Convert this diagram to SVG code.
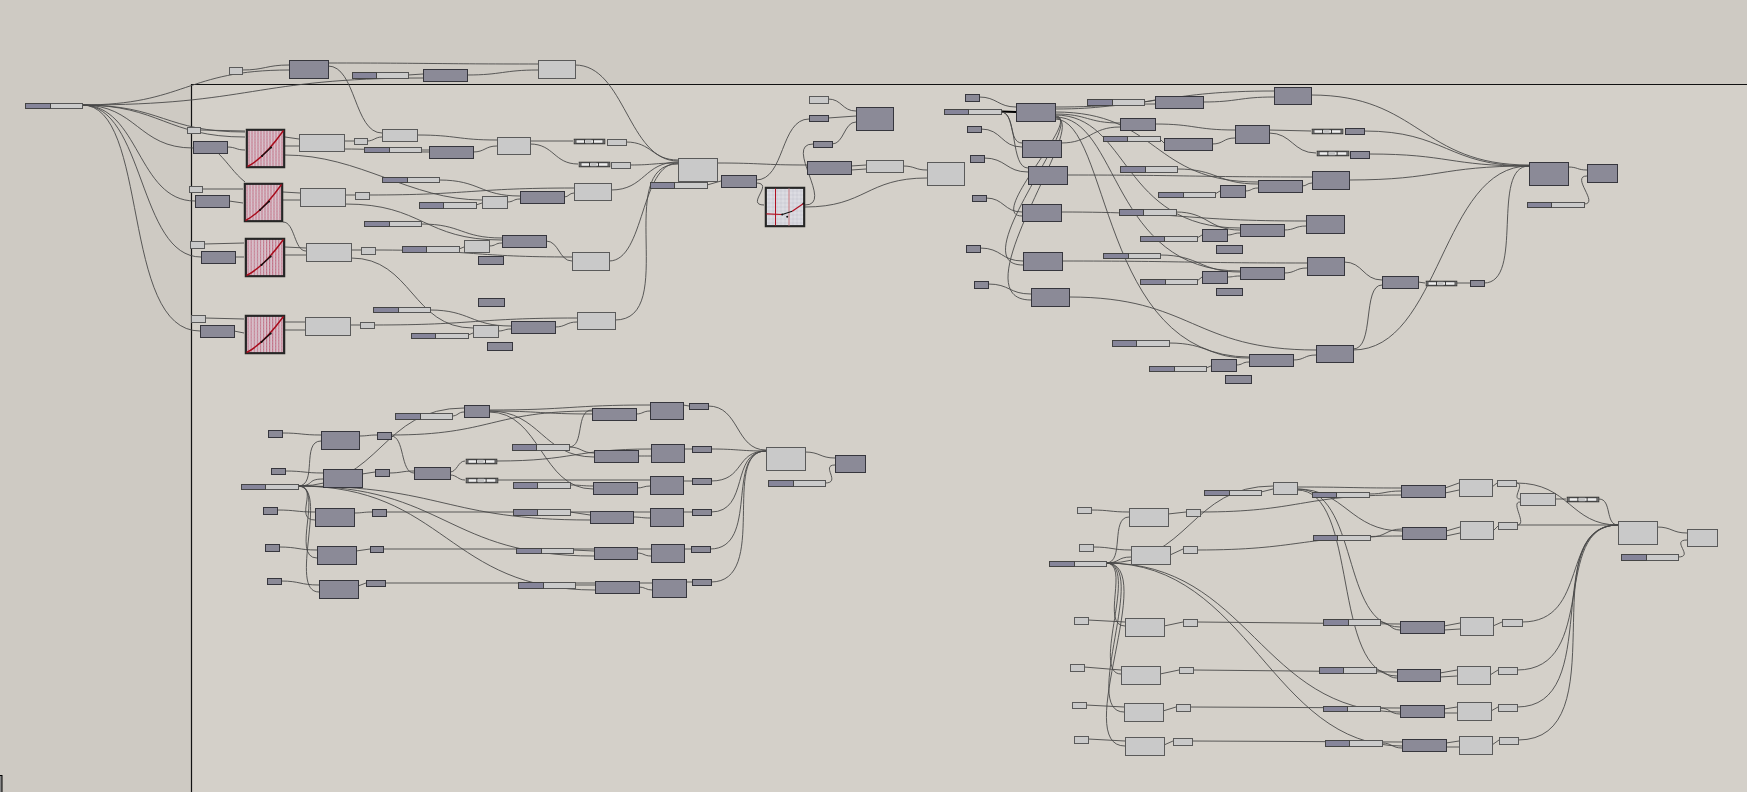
<svg xmlns="http://www.w3.org/2000/svg" xmlns:xlink="http://www.w3.org/1999/xlink" width="1747" height="792" viewBox="0 0 1747 792">
<style>
.d{fill:#8b8a97;stroke:#36363d;stroke-width:1}
.l{fill:#c9c9c9;stroke:#5a5a5a;stroke-width:1}
.sb{fill:#cbcbcb;stroke:#555;stroke-width:1}
.sd{fill:#86859a;stroke:#444;stroke-width:1}
.w path{fill:none;stroke:#474747;stroke-width:1;stroke-opacity:.88}
</style>
<defs>
<pattern id="pgr" width="3" height="3" patternUnits="userSpaceOnUse"><rect width="3" height="3" fill="#d9c3cd"/><rect width="1" height="3" fill="#c06a80"/><rect width="3" height=".5" fill="#cbb3be"/></pattern>
<pattern id="pgg" width="4" height="4" patternUnits="userSpaceOnUse"><rect width="4" height="4" fill="#dcdce2"/><path d="M0 0H4M0 0V4" stroke="#b2b2bc" stroke-width=".6"/></pattern>
<symbol id="gr" viewBox="0 0 40 40" preserveAspectRatio="none">
<rect x="1.2" y="1.2" width="37.6" height="37.6" fill="url(#pgr)" stroke="#262626" stroke-width="2.4"/>
<path d="M2 38 Q18 30 38 2" fill="none" stroke="#a80c1c" stroke-width="1.4"/>
<path d="M16.5 27.5 L25.5 19" stroke="#111" stroke-width="1.1"/>
<circle cx="16.5" cy="27.5" r="1.1" fill="#111"/><circle cx="25.5" cy="19" r="1.1" fill="#111"/>
</symbol>
<symbol id="gr2" viewBox="0 0 41 41" preserveAspectRatio="none">
<rect x="1.2" y="1.2" width="38.6" height="38.6" fill="url(#pgg)" stroke="#262626" stroke-width="2.4"/>
<path d="M11 2V39" stroke="#b01020" stroke-width="1"/><path d="M24.5 2V39" stroke="#d08a90" stroke-width="1.2"/>
<path d="M2 27.3 L17.7 28" fill="none" stroke="#b01020" stroke-width="1.2"/>
<path d="M17.7 28 L27.7 24.7" stroke="#111" stroke-width="1.1"/>
<path d="M27.7 24.7 L39 17" stroke="#b01020" stroke-width="1.2"/>
<circle cx="17.7" cy="28" r="1" fill="#111"/><circle cx="22.7" cy="30.3" r="1" fill="#111"/><circle cx="39" cy="17" r="1" fill="#111"/>
</symbol>
<symbol id="tg" viewBox="0 0 32 6" preserveAspectRatio="none">
<rect x=".5" y=".5" width="31" height="5" fill="#8f8f8f" stroke="#2a2a2a"/>
<rect x="2.5" y="1.3" width="27" height="3.4" fill="#ededed" stroke="#1a1a1a" stroke-width=".7"/>
<rect x="12" y="1.3" width="6" height="3.4" fill="#c4c4c4"/>
<path d="M11 1.3V4.7M20 1.3V4.7" stroke="#111" stroke-width=".8"/>
</symbol>
</defs>
<rect width="1747" height="792" fill="#cecac3"/>
<rect x="192" y="85" width="1555" height="707" fill="#d4d0c9"/>
<path d="M191.5 792 V84.5 H1747" fill="none" stroke="#111" stroke-width="1.2"/>
<rect x="-1" y="775.5" width="3" height="20" fill="#888" stroke="#000"/>

<g id="connectors" class="w">
<path d="M82 105 C185 105 186 70 289 70"/>
<path d="M242 70 C265 70 266 65 289 65"/>
<path d="M82 105 C252 105 253 78 423 78"/>
<path d="M328 63 C433 63 433 64 538 64"/>
<path d="M328 66 C356 66 354 133 382 133"/>
<path d="M408 75 L423 74"/>
<path d="M467 75 C502 75 503 70 538 70"/>
<path d="M82 105 C163 105 164 132 245 132"/>
<path d="M82 105 C160 105 167 137 245 137"/>
<path d="M82 105 C137 105 138 148 193 148"/>
<path d="M82 105 C140 105 137 201 195 201"/>
<path d="M82 105 C145 105 138 257 201 257"/>
<path d="M82 105 C150 105 120 331 200 331"/>
<path d="M200 130 L245 131"/>
<path d="M227 147 C236 147 236 150 245 150"/>
<path d="M218 153 C230 165 233 172 245 182"/>
<path d="M285 137 L299 139"/><path d="M285 146 L299 146"/>
<path d="M344 141 L354 141"/>
<path d="M367 141 C374 141 375 137 382 137"/>
<path d="M344 149 C386 149 387 152 429 152"/>
<path d="M421 150 L429 150"/>
<path d="M417 135 C457 135 457 140 497 140"/>
<path d="M473 152 C485 152 485 146 497 146"/>
<path d="M530 141 L573 141"/>
<path d="M530 144 C554 144 554 164 578 164"/>
<path d="M626 142 C652 142 652 160 678 160"/>
<path d="M630 165 C654 165 654 163 678 163"/>
<path d="M575 65 C625 65 628 161 678 161"/>
<path d="M285 155 C360 155 410 200 482 200"/>
<path d="M369 195 C470 195 472 188 574 188"/>
<path d="M202 189 L243 189"/>
<path d="M229 201 L243 203"/>
<path d="M283 192 L300 193"/><path d="M283 200 L300 200"/>
<path d="M345 195 L355 195"/>
<path d="M439 180 C480 180 480 196 520 196"/>
<path d="M476 205 L482 203"/>
<path d="M507 202 C514 202 513 199 520 199"/>
<path d="M564 197 C569 197 569 193 574 193"/>
<path d="M611 190 C645 190 644 162 678 162"/>
<path d="M345 204 C424 204 423 240 502 240"/>
<path d="M204 244 L244 243"/>
<path d="M235 257 L244 257"/>
<path d="M285 247 L306 248"/><path d="M285 255 L306 255"/>
<path d="M351 250 L361 250"/>
<path d="M375 250 C474 250 473 257 572 257"/>
<path d="M459 249 L464 247"/>
<path d="M421 224 C462 224 461 238 502 238"/>
<path d="M489 246 C496 246 495 243 502 243"/>
<path d="M546 241 C559 241 559 261 572 261"/>
<path d="M609 261 C645 261 640 163 678 163"/>
<path d="M283 222 C295 222 294 251 306 251"/>
<path d="M351 258 C412 258 412 328 473 328"/>
<path d="M205 318 L244 319"/><path d="M234 331 L244 333"/>
<path d="M285 322 L305 322"/><path d="M285 330 L305 330"/>
<path d="M350 325 L360 325"/>
<path d="M374 325 C476 325 475 318 577 318"/>
<path d="M430 310 C470 310 471 326 511 326"/>
<path d="M468 335 L473 333"/>
<path d="M498 331 C505 331 504 329 511 329"/>
<path d="M555 327 C566 327 566 322 577 322"/>
<path d="M615 320 C680 320 612 164 678 164"/>
<path d="M707 185 L721 181"/>
<path d="M717 163 C762 163 762 165 807 165"/>
<path d="M756 180 C785 180 780 119 809 119"/>
<path d="M756 183 C775 183 745 205 764 205"/>
<path d="M805 205 C835 205 783 144 813 144"/>
<path d="M805 207 C866 207 866 178 927 178"/>
<path d="M851 166 L866 165"/><path d="M851 170 L866 169"/>
<path d="M903 166 C915 166 915 170 927 170"/>
<path d="M828 99 C842 99 842 111 856 111"/>
<path d="M828 118 L856 116"/>
<path d="M832 144 C844 144 844 122 856 122"/>

<path d="M1001 111.5 L1016 112" style="stroke:#000;stroke-width:2;stroke-opacity:1"/>
<path d="M979 97 C997 97 998 107 1016 107"/>
<path d="M1055 107 C1165 107 1164 91 1274 91"/>
<path d="M1055 109 C1105 109 1105 104 1155 104"/>
<path d="M1144 102 L1155 100"/>
<path d="M1203 102 C1238 102 1239 97 1274 97"/>
<path d="M1055 114 C1088 114 1087 123 1120 123"/>
<path d="M1155 124 C1195 124 1195 130 1235 130"/>
<path d="M1160 139 L1164 143"/>
<path d="M1212 144 C1224 144 1223 138 1235 138"/>
<path d="M1061 143 C1090 143 1091 127 1120 127"/>
<path d="M1269 130 L1311 131"/>
<path d="M1269 133 C1292 133 1293 153 1316 153"/>
<path d="M1364 131 C1446 131 1447 166 1529 166"/>
<path d="M1369 154 C1449 154 1449 166 1529 166"/>
<path d="M1311 95 C1420 95 1420 165 1529 165"/>
<path d="M1349 180 C1439 180 1439 166 1529 166"/>
<path d="M1353 350 C1441 350 1441 166 1529 166"/>
<path d="M1484 283 C1525 283 1490 166 1529 166"/>
<path d="M1344 262 C1363 262 1363 280 1382 280"/>
<path d="M1353 349 C1375 349 1362 285 1382 285"/>
<path d="M1418 282 L1425 283"/>
<path d="M1457 283 L1470 283"/>
<path d="M1568 167 C1578 167 1577 170 1587 170"/>
<path d="M1584 204 C1600 204 1570 176 1587 176"/>
<path d="M981 129 C1002 129 1001 147 1022 147"/>
<path d="M984 158 C1006 158 1006 172 1028 172"/>
<path d="M986 198 C1004 198 1004 212 1022 212"/>
<path d="M980 248 C1002 248 1001 261 1023 261"/>
<path d="M988 284 C1010 284 1009 294 1031 294"/>
<path d="M1001 112 C1015 112 1008 143 1022 143"/>
<path d="M1001 112 C1018 112 1010 168 1028 168"/>
<path d="M1055 116 C1085 116 985 216 1022 216"/>
<path d="M1055 117 C1090 117 960 265 1023 265"/>
<path d="M1055 118 C1095 118 955 300 1031 300"/>
<path d="M1067 175 C1190 175 1189 177 1312 177"/>
<path d="M1177 169 C1218 169 1217 184 1258 184"/>
<path d="M1215 194 L1220 191"/>
<path d="M1245 191 C1252 191 1251 188 1258 188"/>
<path d="M1302 186 C1307 186 1307 183 1312 183"/>
<path d="M1061 212 C1184 212 1183 221 1306 221"/>
<path d="M1176 212 C1208 212 1208 230 1240 230"/>
<path d="M1197 238 L1202 235"/>
<path d="M1227 235 C1234 235 1233 233 1240 233"/>
<path d="M1284 230 C1295 230 1295 226 1306 226"/>
<path d="M1062 261 C1185 261 1184 263 1307 263"/>
<path d="M1160 255 C1200 255 1200 272 1240 272"/>
<path d="M1197 281 L1202 277"/>
<path d="M1227 277 C1234 277 1233 276 1240 276"/>
<path d="M1284 273 C1296 273 1295 268 1307 268"/>
<path d="M1069 297 C1193 297 1192 350 1316 350"/>
<path d="M1169 343 C1209 343 1209 358 1249 358"/>
<path d="M1206 368 L1211 366"/>
<path d="M1236 365 C1243 365 1242 362 1249 362"/>
<path d="M1293 360 C1305 360 1304 355 1316 355"/>
<path d="M1055 112 C1160 112 1150 182 1258 182"/>
<path d="M1055 115 C1130 115 1120 228 1240 228"/>
<path d="M1055 117 C1120 117 1110 271 1240 271"/>
<path d="M1055 119 C1110 119 1100 357 1249 357"/>

<path d="M282 433 C302 433 301 435 321 435"/>
<path d="M359 436 C368 436 368 435 377 435"/>
<path d="M391 435 C492 435 491 411 592 411"/>
<path d="M391 436 C405 436 400 473 414 473"/>
<path d="M298 486 C381 486 381 408 464 408"/>
<path d="M452 416 C458 416 458 412 464 412"/>
<path d="M489 411 C540 411 541 414 592 414"/>
<path d="M489 411 C541 411 542 457 594 457"/>
<path d="M489 412 C541 412 541 489 593 489"/>
<path d="M569 447 C585 447 575 410 592 410"/>
<path d="M569 447 C581 447 582 453 594 453"/>
<path d="M285 471 C304 471 304 473 323 473"/>
<path d="M362 474 L375 472"/>
<path d="M389 473 C401 473 402 471 414 471"/>
<path d="M450 472 C457 472 458 461 465 461"/>
<path d="M450 475 C457 475 458 480 465 480"/>
<path d="M497 461 C574 461 574 449 651 449"/>
<path d="M498 480 L650 480"/>
<path d="M570 485 C581 485 582 486 593 486"/>
<path d="M298 486 C318 486 301 441 321 441"/>
<path d="M298 486 C315 486 306 479 323 479"/>
<path d="M298 486 C320 486 293 520 315 520"/>
<path d="M298 486 C325 486 290 558 317 558"/>
<path d="M298 486 C330 486 287 592 319 592"/>
<path d="M298 486 C444 486 444 520 590 520"/>
<path d="M298 486 C446 486 446 556 594 556"/>
<path d="M298 486 C446 486 447 590 595 590"/>
<path d="M277 510 C296 510 296 512 315 512"/>
<path d="M354 513 C363 513 363 512 372 512"/>
<path d="M386 512 L650 512"/>
<path d="M570 512 L590 515"/>
<path d="M633 517 C641 517 642 518 650 518"/>
<path d="M279 547 C298 547 298 550 317 550"/>
<path d="M356 551 L370 549"/>
<path d="M383 549 L651 549"/>
<path d="M573 550 L594 551"/>
<path d="M637 553 C644 553 644 556 651 556"/>
<path d="M281 581 C300 581 300 585 319 585"/>
<path d="M358 586 L366 583"/>
<path d="M385 583 L652 583"/>
<path d="M575 585 L595 585"/>
<path d="M639 587 C645 587 646 590 652 590"/>
<path d="M636 414 C643 414 643 411 650 411"/>
<path d="M489 410 C570 410 570 405 650 405"/>
<path d="M638 456 C644 456 645 456 651 456"/>
<path d="M637 488 C643 488 644 486 650 486"/>
<path d="M683 405 L689 406"/>
<path d="M684 449 L692 449"/>
<path d="M683 481 L692 481"/>
<path d="M683 512 L692 512"/>
<path d="M684 549 L691 549"/>
<path d="M686 582 L692 582"/>
<path d="M708 406 C740 406 735 450 766 450"/>
<path d="M711 449 C738 449 739 451 766 451"/>
<path d="M711 481 C745 481 735 451 766 451"/>
<path d="M711 512 C750 512 730 451 766 451"/>
<path d="M710 549 C760 549 725 451 766 451"/>
<path d="M711 582 C770 582 720 451 766 451"/>
<path d="M805 452 C820 452 820 458 835 458"/>
<path d="M825 483 C842 483 820 465 835 465"/>

<path d="M1091 510 C1110 510 1110 512 1129 512"/>
<path d="M1168 514 L1186 512"/>
<path d="M1200 512 C1300 512 1301 495 1401 495"/>
<path d="M1261 492 L1273 489"/>
<path d="M1106 563 C1190 563 1190 486 1273 486"/>
<path d="M1297 487 C1349 487 1349 488 1401 488"/>
<path d="M1369 494 C1385 494 1385 491 1401 491"/>
<path d="M1297 489 C1345 489 1350 531 1402 531"/>
<path d="M1297 489 C1360 489 1340 627 1400 627"/>
<path d="M1297 490 C1360 490 1330 676 1397 676"/>
<path d="M1093 547 C1112 547 1112 550 1131 550"/>
<path d="M1170 555 L1183 549"/>
<path d="M1197 550 C1300 550 1300 536 1402 536"/>
<path d="M1370 537 C1386 537 1386 529 1402 529"/>
<path d="M1106 563 C1125 563 1110 517 1129 517"/>
<path d="M1106 563 C1120 563 1117 557 1131 557"/>
<path d="M1106 563 C1130 563 1100 626 1125 626"/>
<path d="M1106 563 C1140 563 1090 674 1121 674"/>
<path d="M1106 563 C1150 563 1080 712 1124 712"/>
<path d="M1106 563 C1160 563 1070 746 1125 746"/>
<path d="M1106 563 C1250 563 1260 712 1400 712"/>
<path d="M1106 563 C1250 563 1270 746 1402 746"/>
<path d="M1088 620 L1125 622"/>
<path d="M1164 626 L1183 622"/>
<path d="M1197 622 L1400 624"/>
<path d="M1380 622 C1390 622 1390 630 1400 630"/>
<path d="M1084 667 L1121 670"/>
<path d="M1160 674 L1179 670"/>
<path d="M1193 670 L1397 672"/>
<path d="M1376 670 C1386 670 1387 678 1397 678"/>
<path d="M1086 705 L1124 707"/>
<path d="M1163 711 L1176 707"/>
<path d="M1190 707 L1400 708"/>
<path d="M1380 708 C1390 708 1390 714 1400 714"/>
<path d="M1088 739 L1125 741"/>
<path d="M1164 745 L1173 741"/>
<path d="M1192 741 L1402 742"/>
<path d="M1382 743 C1392 743 1392 748 1402 748"/>
<path d="M1445 488 L1459 483"/><path d="M1445 493 L1459 490"/>
<path d="M1492 487 L1497 483"/>
<path d="M1516 483 C1526 483 1511 499 1520 499"/>
<path d="M1517 525 C1528 525 1510 502 1520 502"/>
<path d="M1516 483 C1570 483 1570 525 1618 525"/>
<path d="M1555 499 L1566 499"/>
<path d="M1599 499 C1612 499 1605 525 1618 525"/>
<path d="M1517 525 L1618 525"/>
<path d="M1446 531 L1460 527"/><path d="M1446 536 L1460 533"/>
<path d="M1494 530 L1498 526"/>
<path d="M1444 626 L1460 623"/><path d="M1444 630 L1460 629"/>
<path d="M1493 626 L1502 622"/>
<path d="M1522 622 C1590 622 1560 525 1618 525"/>
<path d="M1440 673 L1457 670"/><path d="M1440 677 L1457 676"/>
<path d="M1490 675 L1498 670"/>
<path d="M1517 670 C1600 670 1550 525 1618 525"/>
<path d="M1444 709 L1457 707"/><path d="M1444 713 L1457 713"/>
<path d="M1491 711 L1498 707"/>
<path d="M1517 707 C1605 707 1540 525 1618 525"/>
<path d="M1446 743 L1459 741"/><path d="M1446 747 L1459 747"/>
<path d="M1492 745 L1499 740"/>
<path d="M1518 740 C1620 740 1530 525 1618 525"/>
<path d="M1657 527 C1672 527 1672 533 1687 533"/>
<path d="M1678 557 C1695 557 1670 540 1687 540"/>
</g>

<g id="nodes" transform="translate(.5 .5)">
<g id="a0"><rect class="sb" x="25" y="103" width="57" height="5"/><rect class="sd" x="25" y="103" width="25" height="5"/></g>
<g id="a1"><rect class="l" x="229" y="67" width="13" height="7"/></g>
<g id="a2"><rect class="d" x="289" y="60" width="39" height="18"/></g>
<g id="a3"><rect class="sb" x="352" y="72" width="56" height="6"/><rect class="sd" x="352" y="72" width="24" height="6"/></g>
<g id="a4"><rect class="d" x="423" y="69" width="44" height="12"/></g>
<g id="a5"><rect class="l" x="538" y="60" width="37" height="18"/></g>
<g id="a6"><rect class="l" x="187" y="127" width="13" height="6"/></g>
<g id="a7"><rect class="d" x="193" y="141" width="34" height="12"/></g>
<g id="g1"><use href="#gr" xlink:href="#gr" x="245" y="128" width="40" height="40"/></g>
<g id="a8"><rect class="l" x="299" y="134" width="45" height="17"/></g>
<g id="a9"><rect class="l" x="354" y="138" width="13" height="6"/></g>
<g id="a10"><rect class="l" x="382" y="129" width="35" height="12"/></g>
<g id="a11"><rect class="sb" x="364" y="147" width="57" height="5"/><rect class="sd" x="364" y="147" width="25" height="5"/></g>
<g id="a12"><rect class="d" x="429" y="146" width="44" height="12"/></g>
<g id="a13"><rect class="l" x="497" y="137" width="33" height="17"/></g>
<g id="t1"><use href="#tg" xlink:href="#tg" x="573" y="138" width="32" height="6"/></g>
<g id="a14"><rect class="l" x="607" y="139" width="19" height="6"/></g>
<g id="t2"><use href="#tg" xlink:href="#tg" x="578" y="161" width="32" height="6"/></g>
<g id="a15"><rect class="l" x="611" y="162" width="19" height="6"/></g>
<g id="a16"><rect class="l" x="189" y="186" width="13" height="6"/></g>
<g id="a17"><rect class="d" x="195" y="195" width="34" height="12"/></g>
<g id="g2"><use href="#gr" xlink:href="#gr" x="243" y="182" width="40" height="40"/></g>
<g id="a18"><rect class="l" x="300" y="188" width="45" height="18"/></g>
<g id="a19"><rect class="l" x="355" y="192" width="14" height="7"/></g>
<g id="a20"><rect class="sb" x="382" y="177" width="57" height="5"/><rect class="sd" x="382" y="177" width="25" height="5"/></g>
<g id="a21"><rect class="sb" x="419" y="202" width="57" height="6"/><rect class="sd" x="419" y="202" width="24" height="6"/></g>
<g id="a22"><rect class="l" x="482" y="196" width="25" height="12"/></g>
<g id="a23"><rect class="d" x="520" y="191" width="44" height="12"/></g>
<g id="a24"><rect class="l" x="574" y="183" width="37" height="17"/></g>
<g id="a25"><rect class="sb" x="364" y="221" width="57" height="5"/><rect class="sd" x="364" y="221" width="25" height="5"/></g>
<g id="a26"><rect class="l" x="190" y="241" width="14" height="7"/></g>
<g id="a27"><rect class="d" x="201" y="251" width="34" height="12"/></g>
<g id="g3"><use href="#gr" xlink:href="#gr" x="244" y="237" width="41" height="40"/></g>
<g id="a28"><rect class="l" x="306" y="243" width="45" height="18"/></g>
<g id="a29"><rect class="l" x="361" y="247" width="14" height="7"/></g>
<g id="a30"><rect class="sb" x="402" y="246" width="57" height="6"/><rect class="sd" x="402" y="246" width="24" height="6"/></g>
<g id="a31"><rect class="l" x="464" y="240" width="25" height="12"/></g>
<g id="a32"><rect class="d" x="502" y="235" width="44" height="12"/></g>
<g id="a33"><rect class="d" x="478" y="256" width="25" height="8"/></g>
<g id="a34"><rect class="l" x="572" y="252" width="37" height="18"/></g>
<g id="a35"><rect class="d" x="478" y="298" width="26" height="8"/></g>
<g id="a36"><rect class="l" x="191" y="315" width="14" height="7"/></g>
<g id="a37"><rect class="d" x="200" y="325" width="34" height="12"/></g>
<g id="g4"><use href="#gr" xlink:href="#gr" x="244" y="314" width="41" height="40"/></g>
<g id="a38"><rect class="l" x="305" y="317" width="45" height="18"/></g>
<g id="a39"><rect class="l" x="360" y="322" width="14" height="6"/></g>
<g id="a40"><rect class="sb" x="373" y="307" width="57" height="5"/><rect class="sd" x="373" y="307" width="25" height="5"/></g>
<g id="a41"><rect class="sb" x="411" y="333" width="57" height="5"/><rect class="sd" x="411" y="333" width="24" height="5"/></g>
<g id="a42"><rect class="l" x="473" y="325" width="25" height="12"/></g>
<g id="a43"><rect class="d" x="511" y="321" width="44" height="12"/></g>
<g id="a44"><rect class="d" x="487" y="342" width="25" height="8"/></g>
<g id="a45"><rect class="l" x="577" y="312" width="38" height="17"/></g>
<g id="m1"><rect class="l" x="678" y="158" width="39" height="23"/></g>
<g id="a46"><rect class="sb" x="650" y="182" width="57" height="6"/><rect class="sd" x="650" y="182" width="24" height="6"/></g>
<g id="a47"><rect class="d" x="721" y="175" width="35" height="12"/></g>
<g id="g5"><use href="#gr2" xlink:href="#gr2" x="764" y="186" width="41" height="41"/></g>
<g id="a48"><rect class="l" x="809" y="96" width="19" height="7"/></g>
<g id="a49"><rect class="d" x="809" y="115" width="19" height="6"/></g>
<g id="a50"><rect class="d" x="856" y="107" width="37" height="23"/></g>
<g id="a51"><rect class="d" x="813" y="141" width="19" height="6"/></g>
<g id="a52"><rect class="d" x="807" y="161" width="44" height="13"/></g>
<g id="a53"><rect class="l" x="866" y="160" width="37" height="12"/></g>
<g id="a54"><rect class="l" x="927" y="162" width="37" height="23"/></g>

<g id="b0"><rect class="sb" x="944" y="109" width="57" height="5"/><rect class="sd" x="944" y="109" width="24" height="5"/></g>
<g id="b1"><rect class="d" x="965" y="94" width="14" height="7"/></g>
<g id="b2"><rect class="d" x="1016" y="103" width="39" height="18"/></g>
<g id="b3"><rect class="sb" x="1087" y="99" width="57" height="6"/><rect class="sd" x="1087" y="99" width="25" height="6"/></g>
<g id="b4"><rect class="d" x="1155" y="96" width="48" height="12"/></g>
<g id="b5"><rect class="d" x="1274" y="87" width="37" height="17"/></g>
<g id="b6"><rect class="d" x="967" y="126" width="14" height="6"/></g>
<g id="b7"><rect class="d" x="1120" y="118" width="35" height="12"/></g>
<g id="b8"><rect class="sb" x="1103" y="136" width="57" height="5"/><rect class="sd" x="1103" y="136" width="24" height="5"/></g>
<g id="b9"><rect class="d" x="1164" y="138" width="48" height="12"/></g>
<g id="b10"><rect class="d" x="1235" y="125" width="34" height="18"/></g>
<g id="b11"><use href="#tg" xlink:href="#tg" x="1311" y="128" width="32" height="6"/></g>
<g id="b12"><rect class="d" x="1345" y="128" width="19" height="6"/></g>
<g id="b13"><use href="#tg" xlink:href="#tg" x="1316" y="150" width="33" height="6"/></g>
<g id="b14"><rect class="d" x="1350" y="151" width="19" height="7"/></g>
<g id="b15"><rect class="d" x="1022" y="140" width="39" height="17"/></g>
<g id="b16"><rect class="d" x="970" y="155" width="14" height="7"/></g>
<g id="b17"><rect class="d" x="1028" y="166" width="39" height="18"/></g>
<g id="b18"><rect class="sb" x="1120" y="166" width="57" height="6"/><rect class="sd" x="1120" y="166" width="25" height="6"/></g>
<g id="b19"><rect class="sb" x="1158" y="192" width="57" height="5"/><rect class="sd" x="1158" y="192" width="25" height="5"/></g>
<g id="b20"><rect class="d" x="1220" y="185" width="25" height="12"/></g>
<g id="b21"><rect class="d" x="1258" y="180" width="44" height="12"/></g>
<g id="b22"><rect class="d" x="1312" y="171" width="37" height="18"/></g>
<g id="b23"><rect class="d" x="972" y="195" width="14" height="6"/></g>
<g id="b24"><rect class="d" x="1022" y="204" width="39" height="17"/></g>
<g id="b25"><rect class="sb" x="1119" y="209" width="57" height="6"/><rect class="sd" x="1119" y="209" width="24" height="6"/></g>
<g id="b26"><rect class="sb" x="1140" y="236" width="57" height="5"/><rect class="sd" x="1140" y="236" width="24" height="5"/></g>
<g id="b27"><rect class="d" x="1202" y="229" width="25" height="12"/></g>
<g id="b28"><rect class="d" x="1240" y="224" width="44" height="12"/></g>
<g id="b29"><rect class="d" x="1306" y="215" width="38" height="18"/></g>
<g id="b30"><rect class="d" x="1216" y="245" width="26" height="8"/></g>
<g id="b31"><rect class="d" x="966" y="245" width="14" height="7"/></g>
<g id="b32"><rect class="d" x="1023" y="252" width="39" height="18"/></g>
<g id="b33"><rect class="sb" x="1103" y="253" width="57" height="5"/><rect class="sd" x="1103" y="253" width="25" height="5"/></g>
<g id="b34"><rect class="sb" x="1140" y="279" width="57" height="5"/><rect class="sd" x="1140" y="279" width="25" height="5"/></g>
<g id="b35"><rect class="d" x="1202" y="271" width="25" height="12"/></g>
<g id="b36"><rect class="d" x="1240" y="267" width="44" height="12"/></g>
<g id="b37"><rect class="d" x="1307" y="257" width="37" height="18"/></g>
<g id="b38"><rect class="d" x="1216" y="288" width="26" height="7"/></g>
<g id="b39"><rect class="d" x="974" y="281" width="14" height="7"/></g>
<g id="b40"><rect class="d" x="1031" y="288" width="38" height="18"/></g>
<g id="b41"><rect class="sb" x="1112" y="340" width="57" height="6"/><rect class="sd" x="1112" y="340" width="24" height="6"/></g>
<g id="b42"><rect class="sb" x="1149" y="366" width="57" height="5"/><rect class="sd" x="1149" y="366" width="25" height="5"/></g>
<g id="b43"><rect class="d" x="1211" y="359" width="25" height="12"/></g>
<g id="b44"><rect class="d" x="1249" y="354" width="44" height="12"/></g>
<g id="b45"><rect class="d" x="1316" y="345" width="37" height="17"/></g>
<g id="b46"><rect class="d" x="1225" y="375" width="26" height="8"/></g>
<g id="b47"><rect class="d" x="1382" y="276" width="36" height="12"/></g>
<g id="b48"><use href="#tg" xlink:href="#tg" x="1425" y="280" width="32" height="6"/></g>
<g id="b49"><rect class="d" x="1470" y="280" width="14" height="6"/></g>
<g id="b50"><rect class="d" x="1529" y="162" width="39" height="23"/></g>
<g id="b51"><rect class="d" x="1587" y="164" width="30" height="18"/></g>
<g id="b52"><rect class="sb" x="1527" y="202" width="57" height="5"/><rect class="sd" x="1527" y="202" width="24" height="5"/></g>

<g id="c0"><rect class="sb" x="241" y="484" width="57" height="5"/><rect class="sd" x="241" y="484" width="24" height="5"/></g>
<g id="c1"><rect class="d" x="268" y="430" width="14" height="7"/></g>
<g id="c2"><rect class="d" x="321" y="431" width="38" height="18"/></g>
<g id="c3"><rect class="d" x="377" y="432" width="14" height="7"/></g>
<g id="c4"><rect class="sb" x="395" y="413" width="57" height="6"/><rect class="sd" x="395" y="413" width="25" height="6"/></g>
<g id="c5"><rect class="d" x="464" y="405" width="25" height="12"/></g>
<g id="c6"><rect class="d" x="592" y="408" width="44" height="12"/></g>
<g id="c7"><rect class="sb" x="512" y="444" width="57" height="6"/><rect class="sd" x="512" y="444" width="24" height="6"/></g>
<g id="c8"><rect class="d" x="594" y="450" width="44" height="12"/></g>
<g id="c9"><rect class="d" x="271" y="468" width="14" height="6"/></g>
<g id="c10"><rect class="d" x="323" y="469" width="39" height="18"/></g>
<g id="c11"><rect class="d" x="375" y="469" width="14" height="7"/></g>
<g id="c12"><rect class="d" x="414" y="467" width="36" height="12"/></g>
<g id="c13"><use href="#tg" xlink:href="#tg" x="465" y="458" width="32" height="6"/></g>
<g id="c14"><use href="#tg" xlink:href="#tg" x="465" y="477" width="33" height="6"/></g>
<g id="c15"><rect class="sb" x="513" y="482" width="57" height="6"/><rect class="sd" x="513" y="482" width="24" height="6"/></g>
<g id="c16"><rect class="d" x="593" y="482" width="44" height="12"/></g>
<g id="c17"><rect class="d" x="263" y="507" width="14" height="7"/></g>
<g id="c18"><rect class="d" x="315" y="508" width="39" height="18"/></g>
<g id="c19"><rect class="d" x="372" y="509" width="14" height="7"/></g>
<g id="c20"><rect class="sb" x="513" y="509" width="57" height="6"/><rect class="sd" x="513" y="509" width="24" height="6"/></g>
<g id="c21"><rect class="d" x="590" y="511" width="43" height="12"/></g>
<g id="c22"><rect class="d" x="265" y="544" width="14" height="7"/></g>
<g id="c23"><rect class="d" x="317" y="546" width="39" height="18"/></g>
<g id="c24"><rect class="d" x="370" y="546" width="13" height="6"/></g>
<g id="c25"><rect class="sb" x="516" y="548" width="57" height="5"/><rect class="sd" x="516" y="548" width="25" height="5"/></g>
<g id="c26"><rect class="d" x="594" y="547" width="43" height="12"/></g>
<g id="c27"><rect class="d" x="267" y="578" width="14" height="6"/></g>
<g id="c28"><rect class="d" x="319" y="580" width="39" height="18"/></g>
<g id="c29"><rect class="d" x="366" y="580" width="19" height="6"/></g>
<g id="c30"><rect class="sb" x="518" y="582" width="57" height="6"/><rect class="sd" x="518" y="582" width="25" height="6"/></g>
<g id="c31"><rect class="d" x="595" y="581" width="44" height="12"/></g>
<g id="c32"><rect class="d" x="650" y="402" width="33" height="17"/></g>
<g id="c33"><rect class="d" x="689" y="403" width="19" height="6"/></g>
<g id="c34"><rect class="d" x="651" y="444" width="33" height="18"/></g>
<g id="c35"><rect class="d" x="692" y="446" width="19" height="6"/></g>
<g id="c36"><rect class="d" x="650" y="476" width="33" height="18"/></g>
<g id="c37"><rect class="d" x="692" y="478" width="19" height="6"/></g>
<g id="c38"><rect class="d" x="650" y="508" width="33" height="18"/></g>
<g id="c39"><rect class="d" x="692" y="509" width="19" height="6"/></g>
<g id="c40"><rect class="d" x="651" y="544" width="33" height="18"/></g>
<g id="c41"><rect class="d" x="691" y="546" width="19" height="6"/></g>
<g id="c42"><rect class="d" x="652" y="579" width="34" height="18"/></g>
<g id="c43"><rect class="d" x="692" y="579" width="19" height="6"/></g>
<g id="c44"><rect class="l" x="766" y="447" width="39" height="23"/></g>
<g id="c45"><rect class="sb" x="768" y="480" width="57" height="6"/><rect class="sd" x="768" y="480" width="25" height="6"/></g>
<g id="c46"><rect class="d" x="835" y="455" width="30" height="17"/></g>

<g id="e0"><rect class="sb" x="1049" y="561" width="57" height="5"/><rect class="sd" x="1049" y="561" width="25" height="5"/></g>
<g id="e1"><rect class="l" x="1077" y="507" width="14" height="6"/></g>
<g id="e2"><rect class="l" x="1129" y="508" width="39" height="18"/></g>
<g id="e3"><rect class="l" x="1186" y="509" width="14" height="7"/></g>
<g id="e4"><rect class="sb" x="1204" y="490" width="57" height="5"/><rect class="sd" x="1204" y="490" width="25" height="5"/></g>
<g id="e5"><rect class="l" x="1273" y="482" width="24" height="12"/></g>
<g id="e6"><rect class="sb" x="1312" y="492" width="57" height="5"/><rect class="sd" x="1312" y="492" width="24" height="5"/></g>
<g id="e7"><rect class="d" x="1401" y="485" width="44" height="12"/></g>
<g id="e8"><rect class="l" x="1459" y="479" width="33" height="17"/></g>
<g id="e9"><rect class="l" x="1497" y="480" width="19" height="6"/></g>
<g id="e10"><rect class="l" x="1520" y="493" width="35" height="12"/></g>
<g id="e11"><use href="#tg" xlink:href="#tg" x="1566" y="496" width="33" height="6"/></g>
<g id="e12"><rect class="l" x="1079" y="544" width="14" height="7"/></g>
<g id="e13"><rect class="l" x="1131" y="546" width="39" height="18"/></g>
<g id="e14"><rect class="l" x="1183" y="546" width="14" height="7"/></g>
<g id="e15"><rect class="sb" x="1313" y="535" width="57" height="5"/><rect class="sd" x="1313" y="535" width="24" height="5"/></g>
<g id="e16"><rect class="d" x="1402" y="527" width="44" height="12"/></g>
<g id="e17"><rect class="l" x="1460" y="521" width="33" height="18"/></g>
<g id="e18"><rect class="l" x="1498" y="522" width="19" height="7"/></g>
<g id="e19"><rect class="l" x="1618" y="521" width="39" height="23"/></g>
<g id="e20"><rect class="l" x="1687" y="529" width="30" height="17"/></g>
<g id="e21"><rect class="sb" x="1621" y="554" width="57" height="6"/><rect class="sd" x="1621" y="554" width="25" height="6"/></g>
<g id="e22"><rect class="l" x="1074" y="617" width="14" height="7"/></g>
<g id="e23"><rect class="l" x="1125" y="618" width="39" height="18"/></g>
<g id="e24"><rect class="l" x="1183" y="619" width="14" height="7"/></g>
<g id="e25"><rect class="sb" x="1323" y="619" width="57" height="6"/><rect class="sd" x="1323" y="619" width="25" height="6"/></g>
<g id="e26"><rect class="d" x="1400" y="621" width="44" height="12"/></g>
<g id="e27"><rect class="l" x="1460" y="617" width="33" height="18"/></g>
<g id="e28"><rect class="l" x="1502" y="619" width="20" height="7"/></g>
<g id="e29"><rect class="l" x="1070" y="664" width="14" height="7"/></g>
<g id="e30"><rect class="l" x="1121" y="666" width="39" height="18"/></g>
<g id="e31"><rect class="l" x="1179" y="667" width="14" height="6"/></g>
<g id="e32"><rect class="sb" x="1319" y="667" width="57" height="6"/><rect class="sd" x="1319" y="667" width="24" height="6"/></g>
<g id="e33"><rect class="d" x="1397" y="669" width="43" height="12"/></g>
<g id="e34"><rect class="l" x="1457" y="666" width="33" height="18"/></g>
<g id="e35"><rect class="l" x="1498" y="667" width="19" height="7"/></g>
<g id="e36"><rect class="l" x="1072" y="702" width="14" height="6"/></g>
<g id="e37"><rect class="l" x="1124" y="703" width="39" height="18"/></g>
<g id="e38"><rect class="l" x="1176" y="704" width="14" height="7"/></g>
<g id="e39"><rect class="sb" x="1323" y="706" width="57" height="5"/><rect class="sd" x="1323" y="706" width="24" height="5"/></g>
<g id="e40"><rect class="d" x="1400" y="705" width="44" height="12"/></g>
<g id="e41"><rect class="l" x="1457" y="702" width="34" height="18"/></g>
<g id="e42"><rect class="l" x="1498" y="704" width="19" height="7"/></g>
<g id="e43"><rect class="l" x="1074" y="736" width="14" height="7"/></g>
<g id="e44"><rect class="l" x="1125" y="737" width="39" height="18"/></g>
<g id="e45"><rect class="l" x="1173" y="738" width="19" height="7"/></g>
<g id="e46"><rect class="sb" x="1325" y="740" width="57" height="6"/><rect class="sd" x="1325" y="740" width="24" height="6"/></g>
<g id="e47"><rect class="d" x="1402" y="739" width="44" height="12"/></g>
<g id="e48"><rect class="l" x="1459" y="736" width="33" height="18"/></g>
<g id="e49"><rect class="l" x="1499" y="737" width="19" height="7"/></g>
</g>
</svg>
